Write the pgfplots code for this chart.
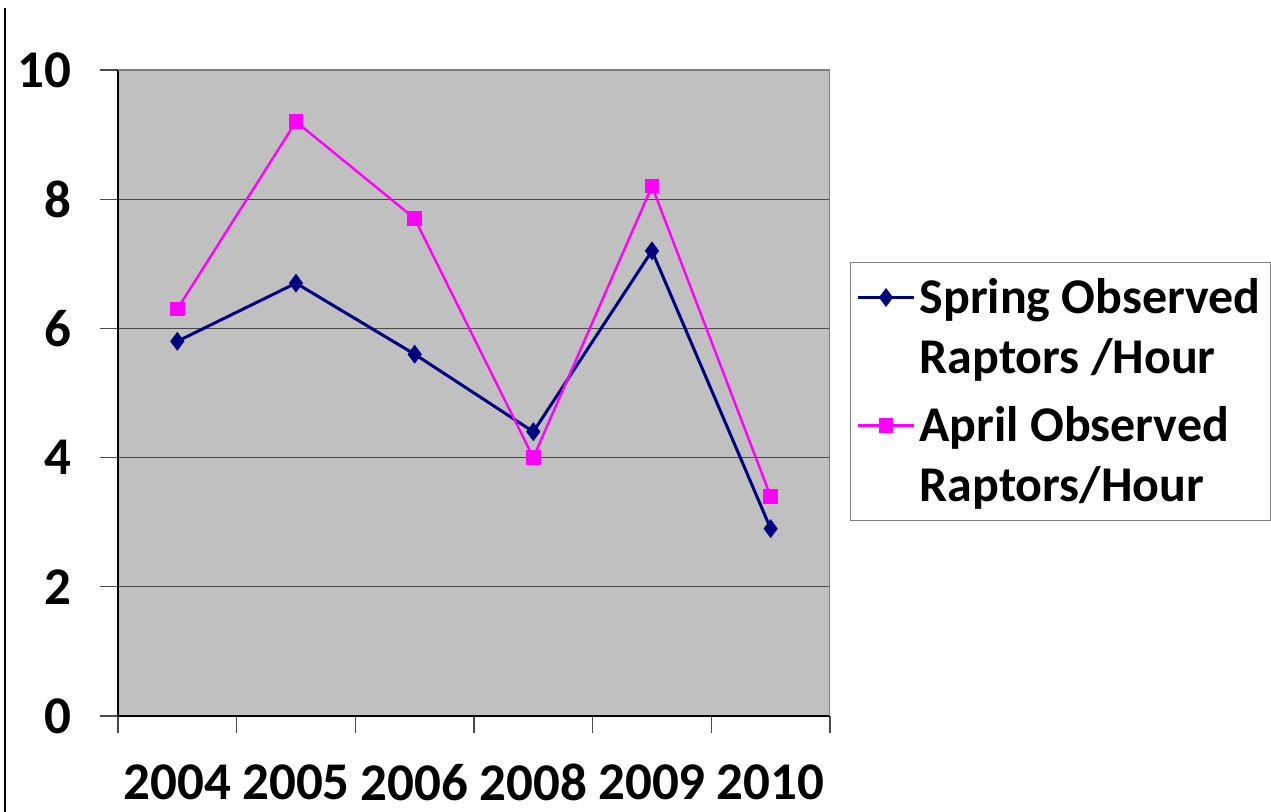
\documentclass[border=0pt]{standalone}
\usepackage{pgfplots}
\pgfplotsset{compat=1.18}
\usepackage{fontspec}
\setmainfont{Carlito}
\definecolor{plotbg}{HTML}{C0C0C0}
\definecolor{navyline}{HTML}{000080}
\definecolor{pinkline}{HTML}{FF00FF}
\definecolor{gridc}{HTML}{4A4A4A}

\begin{document}
\begin{tikzpicture}
  \path[use as bounding box] (0,0) rectangle (635.5pt,406pt);
  \draw[line width=1.4pt] (2.5pt,402pt) -- (2.5pt,0pt);
  \begin{axis}[
      at={(59pt,48pt)}, anchor=south west,
      scale only axis, width=356pt, height=323pt,
      xmin=-0.5, xmax=5.5, ymin=0, ymax=10,
      axis background/.style={fill=plotbg},
      axis x line*=bottom, axis y line*=left,
      axis line style={black, line width=0.9pt},
      xtick={0,1,2,3,4,5},
      xticklabels={2004,2005,2006,2008,2009,2010},
      major x tick style={draw=none},
      minor xtick={-0.5,0.5,1.5,2.5,3.5,4.5,5.5},
      minor tick style={gridc, line width=0.6pt},
      minor tick length=8.5pt,
      ytick={0,2,4,6,8,10},
      ymajorgrids, grid style={gridc, line width=0.6pt},
      major tick length=9pt, tick align=outside,
      y tick style={gridc, line width=0.6pt},
      /pgf/number format/assume math mode=true,
      ticklabel style={font=\fontsize{26.5}{28}\selectfont\bfseries},
      yticklabel style={inner sep=0pt, anchor=east, xshift=-14pt},
      xticklabel style={inner sep=0pt, anchor=north, yshift=-15pt},
      legend style={at={(1.028,0.703)}, anchor=north west,
        draw=gray, line width=0.6pt, fill=white,
        font=\fontsize{25}{30}\selectfont\bfseries,
        cells={align=left}, inner xsep=3pt, inner ysep=6pt,
        row sep=11pt},
      legend cell align=left,
      legend image code/.code={
        \draw[mark repeat=2,mark phase=2,yshift=15pt,#1] plot coordinates {(0pt,0pt)(14pt,0pt)(28pt,0pt)};},
    ]
    \draw[gray, line width=0.6pt] (rel axis cs:0,1) -- (rel axis cs:1,1) -- (rel axis cs:1,0);
    \addplot[navyline, line width=1.5pt, mark=diamond*, mark size=3.5pt]
      coordinates {(0,5.8)(1,6.7)(2,5.6)(3,4.4)(4,7.2)(5,2.9)};
    \addlegendentry{Spring Observed\\Raptors /Hour}
    \addplot[pinkline, line width=1.2pt, mark=square*, mark size=3pt]
      coordinates {(0,6.3)(1,9.2)(2,7.7)(3,4.0)(4,8.2)(5,3.4)};
    \addlegendentry{April Observed\\Raptors/Hour}
  \end{axis}
\end{tikzpicture}
\end{document}
